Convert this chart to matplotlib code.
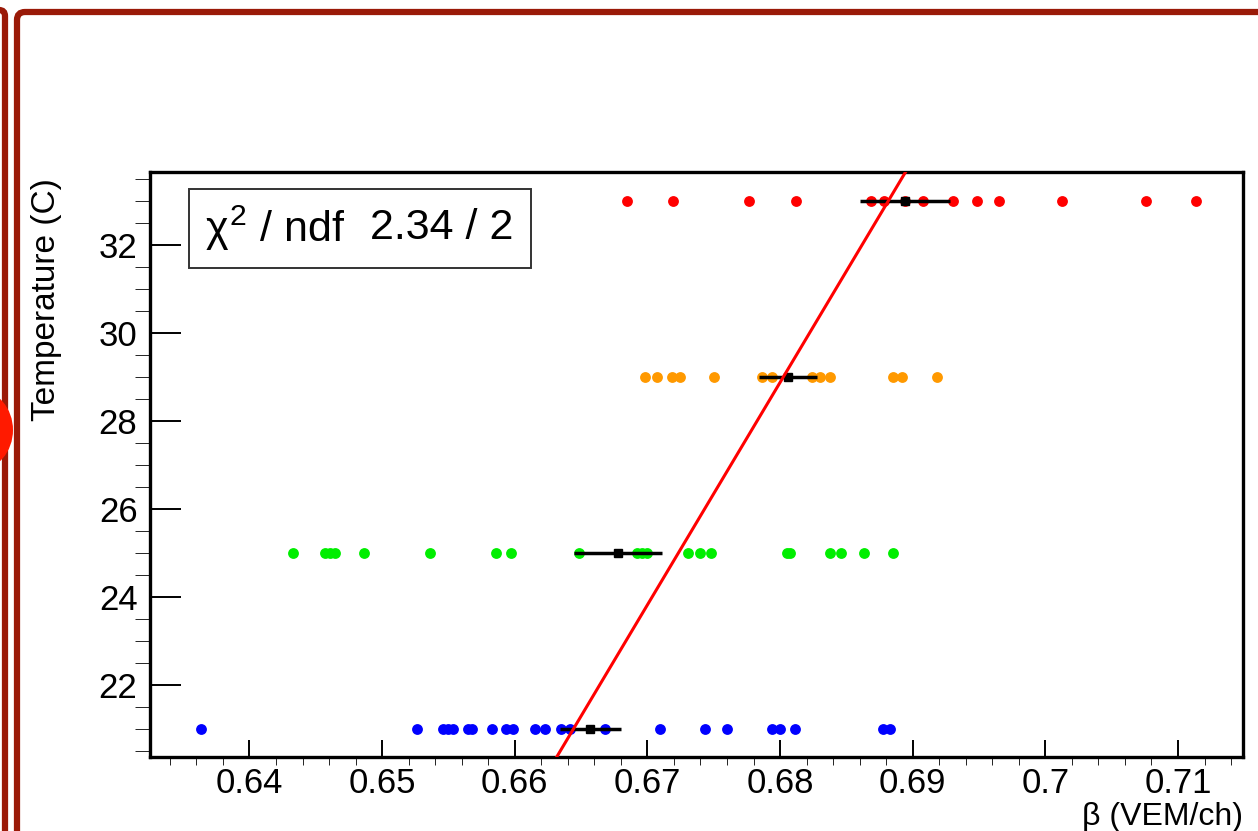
import matplotlib
matplotlib.use("Agg")
import matplotlib.pyplot as plt
import numpy as np
from matplotlib.patches import FancyBboxPatch, Rectangle, Ellipse
from matplotlib.ticker import MultipleLocator

plt.rcParams['font.family'] = ['Liberation Sans', 'DejaVu Sans']
plt.rcParams['mathtext.fontset'] = 'custom'
plt.rcParams['mathtext.rm'] = 'Liberation Sans'
plt.rcParams['mathtext.it'] = 'Liberation Sans'

# beta values, one list per temperature
temps = [21, 25, 29, 33]
beta_21 = [0.63636, 0.65264, 0.65462, 0.6550, 0.65537, 0.6565, 0.65678, 0.65829,
           0.65937, 0.65987, 0.66155, 0.66231, 0.66349, 0.6642, 0.66683, 0.67097,
           0.67436, 0.6760, 0.67939, 0.68002, 0.68115, 0.68778, 0.6883]
beta_25 = [0.64329, 0.64573, 0.64605, 0.64641, 0.64867, 0.65359, 0.65861, 0.65972,
           0.66482, 0.66922, 0.66959, 0.66997, 0.67303, 0.67393, 0.67479, 0.68052,
           0.68077, 0.68378, 0.68459, 0.68635, 0.68848]
beta_29 = [0.66984, 0.67072, 0.67185, 0.67248, 0.67499, 0.67864, 0.67939, 0.6824,
           0.68303, 0.68373, 0.68855, 0.68919, 0.69182]
beta_33 = [0.66849, 0.67195, 0.67768, 0.68122, 0.68687, 0.68785, 0.6894, 0.69079,
           0.69305, 0.69486, 0.69652, 0.70127, 0.7076, 0.71136]
colors = ['#0000ff', '#00ee00', '#ff9900', '#ff0000']

# mean and spread per temperature (black markers)
mean_beta = [0.6657, 0.6678, 0.6806, 0.6894]
err_beta = [0.0023, 0.0033, 0.0022, 0.0034]

# linear fit T = p0 + p1 * beta
fit_p0 = -315.0
fit_p1 = 505.7
chi2_label = r"$\chi^{2}$ / ndf"
chi2_value = "2.34 / 2"

fig = plt.figure(figsize=(12.58, 8.31), dpi=100)

# slide frame behind the pad
bg = fig.add_axes([0, 0, 1, 1], zorder=-1)
bg.set_xlim(0, 1258)
bg.set_ylim(831, 0)
bg.axis('off')
frame_col = '#9a1a08'
bg.add_patch(FancyBboxPatch((17, 12), 1300, 900, boxstyle="round,pad=0,rounding_size=8",
                            lw=4.5, ec=frame_col, fc='white'))
bg.add_patch(FancyBboxPatch((-100, 10), 105, 900, boxstyle="round,pad=0,rounding_size=6",
                            lw=4.5, ec=frame_col, fc='white'))
bg.add_patch(Ellipse((-22, 430), 70, 80, color='#ff1a00', lw=0))

ax = fig.add_axes([150 / 1258, 1 - 757 / 831, 1093 / 1258, 585 / 831])
ax.set_xlim(0.6325, 0.7149)
ax.set_ylim(20.36, 33.66)

for t, vals, c in zip(temps, [beta_21, beta_25, beta_29, beta_33], colors):
    ax.plot(vals, [t] * len(vals), 'o', color=c, ms=7.8, mec='none', zorder=2)

ax.errorbar(mean_beta, temps, xerr=err_beta, fmt='s', color='black', ms=6,
            elinewidth=2.5, capsize=0, zorder=3)

xfit = np.array(ax.get_xlim())
ax.plot(xfit, fit_p0 + fit_p1 * xfit, color='#ff0000', lw=2.2, zorder=4)

ax.xaxis.set_major_locator(MultipleLocator(0.01))
ax.xaxis.set_minor_locator(MultipleLocator(0.002))
ax.yaxis.set_major_locator(MultipleLocator(2))
ax.yaxis.set_minor_locator(MultipleLocator(0.5))
ax.xaxis.set_major_formatter(plt.FuncFormatter(lambda v, p: f"{v:.2f}".rstrip('0')))
ax.tick_params(direction='in', top=False, right=False, width=1.4, color='black',
               labelsize=25)
ax.tick_params(axis='x', which='major', length=12.5, pad=7)
ax.tick_params(axis='x', which='minor', length=6)
ax.tick_params(axis='y', which='major', length=22.5, pad=9)
ax.tick_params(axis='y', which='minor', length=11)
for s in ax.spines.values():
    s.set_linewidth(2.4)

fig.text(1243 / 1258, 1 - 817 / 831, "β (VEM/ch)", ha='right', va='center', fontsize=23)
fig.text(47 / 1258, 1 - 178 / 831, "Temperature (C)", rotation=90, ha='center',
         va='top', fontsize=24)

# fit statistics box
ax.add_patch(Rectangle((0.0357, 0.8359), 0.3129, 0.1351, transform=ax.transAxes,
                       fc='white', ec='#333333', lw=1.4, zorder=5))
ax.text(0.0503, 0.904, chi2_label, transform=ax.transAxes, ha='left', va='center',
        fontsize=31, zorder=6)
ax.text(0.3321, 0.904, chi2_value, transform=ax.transAxes, ha='right', va='center',
        fontsize=31, zorder=6)

fig.savefig("out.png", dpi=100)
